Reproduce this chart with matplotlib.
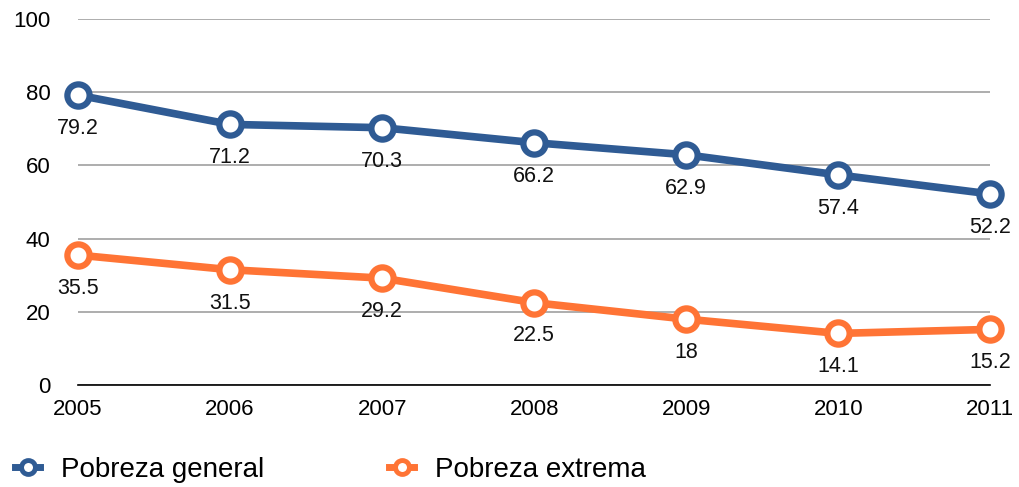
import matplotlib.pyplot as plt
from matplotlib.lines import Line2D

years = [2005, 2006, 2007, 2008, 2009, 2010, 2011]
general = [79.2, 71.2, 70.3, 66.2, 62.9, 57.4, 52.2]
extrema = [35.5, 31.5, 29.2, 22.5, 18, 14.1, 15.2]
labels = ['Pobreza general', 'Pobreza extrema']
yticks = [0, 20, 40, 60, 80, 100]

BLUE = '#2F5B94'
ORANGE = '#FF7435'


def fmt(v):
    return f'{v:g}'


def main():
    plt.rcParams['font.family'] = ['Liberation Sans', 'DejaVu Sans']
    fig = plt.figure(figsize=(10.2, 4.87), dpi=100)
    ax = fig.add_axes([0.0765, 0.2094, 0.8945, 0.7516])

    for ys, color in [(general, BLUE), (extrema, ORANGE)]:
        ax.plot(years, ys, color=color, lw=5.5, marker='o', ms=16, mew=4.5,
                mfc='white', mec=color, clip_on=False, zorder=3)
        for x, y in zip(years, ys):
            ax.annotate(fmt(y), (x, y), xytext=(0, -24), textcoords='offset points',
                        ha='center', va='center', fontsize=15.5, color='#111111')

    ax.set_xlim(2005, 2011)
    ax.set_ylim(0, 100)
    ax.set_yticks(yticks)
    ax.set_xticks(years)
    ax.grid(axis='y', color='#A0A0A0', lw=1.2)
    ax.set_axisbelow(True)
    for s in ['top', 'right', 'left']:
        ax.spines[s].set_visible(False)
    ax.spines['bottom'].set_color('black')
    ax.spines['bottom'].set_linewidth(1.2)
    ax.tick_params(axis='y', length=0, pad=20, labelsize=16)
    ax.tick_params(axis='x', length=0, pad=10, labelsize=16)

    handles = [Line2D([], [], color=c, lw=5, marker='o', ms=10, mew=3.5, mfc='white', mec=c)
               for c in (BLUE, ORANGE)]
    fig.legend(handles, labels, loc='center left', bbox_to_anchor=(15 / 1020, 1 - 470 / 487),
               ncol=2, frameon=False, fontsize=20, handletextpad=0.75, columnspacing=4.5,
               handlelength=0.9, borderpad=0, borderaxespad=0)

    fig.savefig('out.png', dpi=100)


if __name__ == '__main__':
    main()
